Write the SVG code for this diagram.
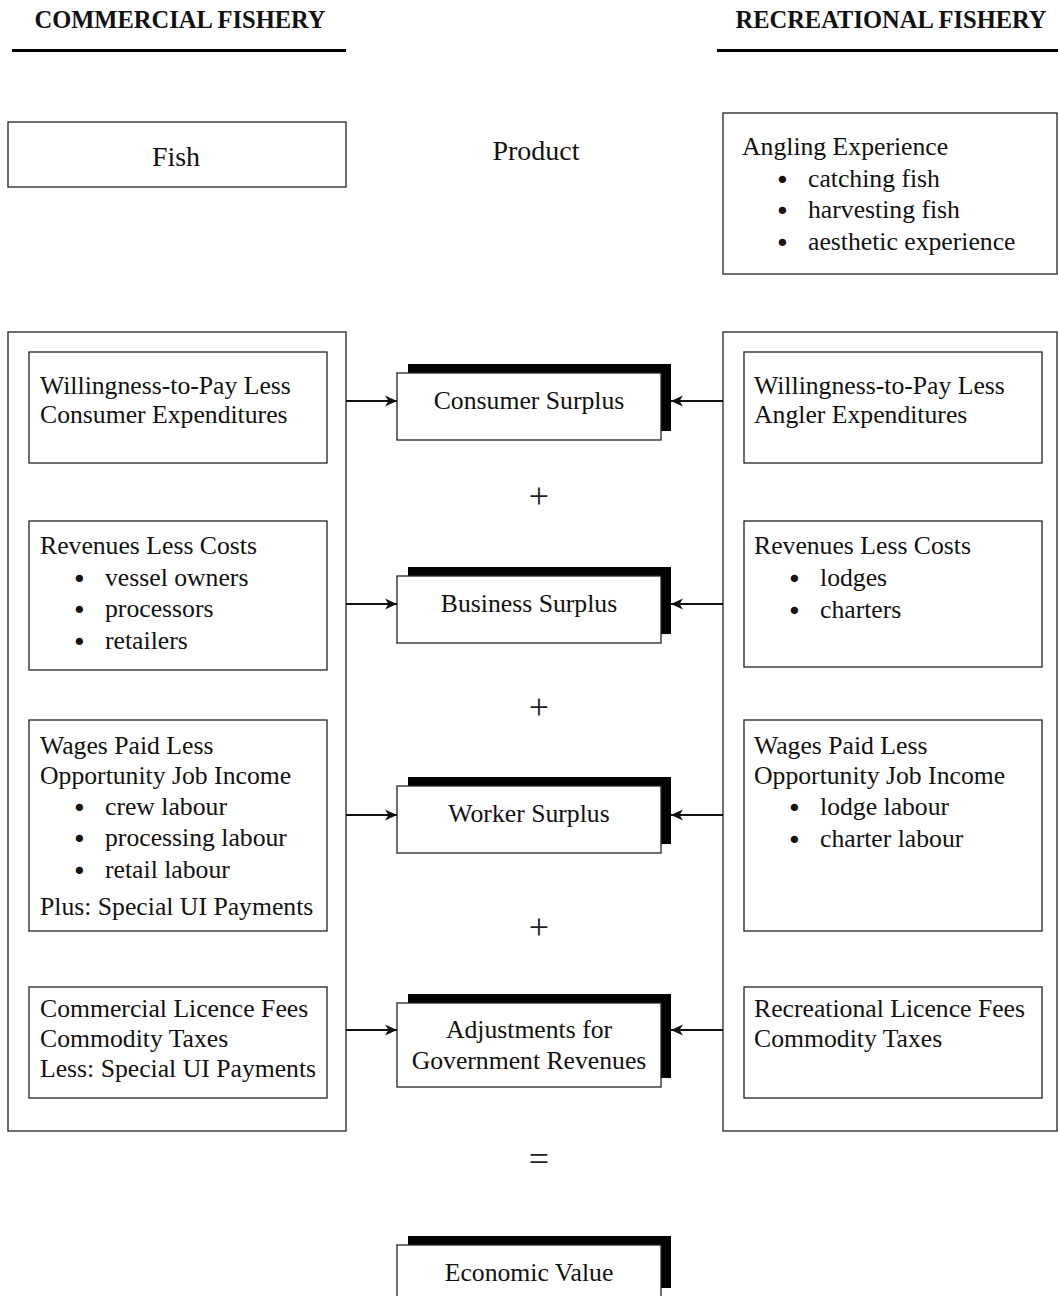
<svg xmlns="http://www.w3.org/2000/svg" width="1058" height="1296" viewBox="0 0 1058 1296">
<style>
.b{fill:#fff;stroke:#222;stroke-width:1.3}
.s{fill:#000}
.t{font-family:"Liberation Serif","Times New Roman",serif;font-size:25.7px;fill:#111}
.c{text-anchor:middle}
.u{font-family:"DejaVu Sans",sans-serif;font-size:25px}
.h{font-family:"Liberation Serif","Times New Roman",serif;font-size:24.5px;font-weight:bold;fill:#111}
.big{font-family:"Liberation Serif","Times New Roman",serif;font-size:28px;fill:#111;text-anchor:middle}
.op{font-family:"Liberation Serif","Times New Roman",serif;font-size:36px;fill:#222;text-anchor:middle}
.a{stroke:#111;stroke-width:1.8;fill:none;marker-end:url(#ah)}
</style>
<defs>
<marker id="ah" markerUnits="userSpaceOnUse" markerWidth="14" markerHeight="14" refX="12" refY="7" orient="auto">
<path d="M0,1.5 L12,7 L0,12.5 L3.5,7 z" fill="#111"/>
</marker>
</defs>
<rect width="1058" height="1296" fill="#fff"/>

<g id="header-commercial">
<text class="h" x="180" y="28" text-anchor="middle">COMMERCIAL FISHERY</text>
<rect x="12" y="49" width="334" height="3" fill="#000"/>
</g>
<g id="header-recreational">
<text class="h" x="891" y="28" text-anchor="middle">RECREATIONAL FISHERY</text>
<rect x="717" y="49" width="341" height="3" fill="#000"/>
</g>

<g id="fish">
<rect class="b" x="8" y="122" width="338" height="65"/>
<text class="big" x="176" y="166">Fish</text>
</g>
<g id="product">
<text class="big" x="536" y="160">Product</text>
</g>
<g id="angling">
<rect class="b" x="723" y="113" width="334" height="161"/>
<text class="t" x="742" y="155">Angling Experience</text>
<text class="t" y="187"><tspan class="u" x="775" dy="2">•</tspan><tspan x="808" dy="-2">catching fish</tspan></text>
<text class="t" y="218"><tspan class="u" x="775" dy="2">•</tspan><tspan x="808" dy="-2">harvesting fish</tspan></text>
<text class="t" y="250"><tspan class="u" x="775" dy="2">•</tspan><tspan x="808" dy="-2">aesthetic experience</tspan></text>
</g>

<g id="commercial-panel">
<rect class="b" x="8" y="332" width="338" height="799"/>
</g>
<g id="recreational-panel">
<rect class="b" x="723" y="332" width="334" height="799"/>
</g>

<g id="c-consumer">
<rect class="b" x="29" y="352" width="298" height="111"/>
<text class="t" x="40" y="394">Willingness-to-Pay Less</text>
<text class="t" x="40" y="423">Consumer Expenditures</text>
</g>
<g id="c-business">
<rect class="b" x="29" y="521" width="298" height="149"/>
<text class="t" x="40" y="554">Revenues Less Costs</text>
<text class="t" y="586"><tspan class="u" x="72" dy="2">•</tspan><tspan x="105" dy="-2">vessel owners</tspan></text>
<text class="t" y="617"><tspan class="u" x="72" dy="2">•</tspan><tspan x="105" dy="-2">processors</tspan></text>
<text class="t" y="649"><tspan class="u" x="72" dy="2">•</tspan><tspan x="105" dy="-2">retailers</tspan></text>
</g>
<g id="c-worker">
<rect class="b" x="29" y="720" width="298" height="211"/>
<text class="t" x="40" y="754">Wages Paid Less</text>
<text class="t" x="40" y="784">Opportunity Job Income</text>
<text class="t" y="815"><tspan class="u" x="72" dy="2">•</tspan><tspan x="105" dy="-2">crew labour</tspan></text>
<text class="t" y="846"><tspan class="u" x="72" dy="2">•</tspan><tspan x="105" dy="-2">processing labour</tspan></text>
<text class="t" y="878"><tspan class="u" x="72" dy="2">•</tspan><tspan x="105" dy="-2">retail labour</tspan></text>
<text class="t" x="40" y="915">Plus: Special UI Payments</text>
</g>
<g id="c-government">
<rect class="b" x="29" y="987" width="298" height="111"/>
<text class="t" x="40" y="1017">Commercial Licence Fees</text>
<text class="t" x="40" y="1047">Commodity Taxes</text>
<text class="t" x="40" y="1077">Less: Special UI Payments</text>
</g>

<g id="r-consumer">
<rect class="b" x="744" y="352" width="298" height="111"/>
<text class="t" x="754" y="394">Willingness-to-Pay Less</text>
<text class="t" x="754" y="423">Angler Expenditures</text>
</g>
<g id="r-business">
<rect class="b" x="744" y="521" width="298" height="146"/>
<text class="t" x="754" y="554">Revenues Less Costs</text>
<text class="t" y="586"><tspan class="u" x="787" dy="2">•</tspan><tspan x="820" dy="-2">lodges</tspan></text>
<text class="t" y="618"><tspan class="u" x="787" dy="2">•</tspan><tspan x="820" dy="-2">charters</tspan></text>
</g>
<g id="r-worker">
<rect class="b" x="744" y="720" width="298" height="211"/>
<text class="t" x="754" y="754">Wages Paid Less</text>
<text class="t" x="754" y="784">Opportunity Job Income</text>
<text class="t" y="815"><tspan class="u" x="787" dy="2">•</tspan><tspan x="820" dy="-2">lodge labour</tspan></text>
<text class="t" y="847"><tspan class="u" x="787" dy="2">•</tspan><tspan x="820" dy="-2">charter labour</tspan></text>
</g>
<g id="r-government">
<rect class="b" x="744" y="987" width="298" height="111"/>
<text class="t" x="754" y="1017">Recreational Licence Fees</text>
<text class="t" x="754" y="1047">Commodity Taxes</text>
</g>

<g id="consumer-surplus">
<rect class="s" x="408" y="364" width="263" height="67"/>
<rect class="b" x="397" y="373" width="264" height="67"/>
<text class="t c" x="529" y="409">Consumer Surplus</text>
</g>
<g id="business-surplus">
<rect class="s" x="408" y="567" width="263" height="67"/>
<rect class="b" x="397" y="576" width="264" height="67"/>
<text class="t c" x="529" y="612">Business Surplus</text>
</g>
<g id="worker-surplus">
<rect class="s" x="408" y="777" width="263" height="67"/>
<rect class="b" x="397" y="786" width="264" height="67"/>
<text class="t c" x="529" y="822">Worker Surplus</text>
</g>
<g id="gov-adjustments">
<rect class="s" x="408" y="994" width="263" height="84"/>
<rect class="b" x="397" y="1003" width="264" height="84"/>
<text class="t c" x="529" y="1038">Adjustments for</text>
<text class="t c" x="529" y="1069">Government Revenues</text>
</g>
<g id="economic-value">
<rect class="s" x="408" y="1236" width="263" height="52"/>
<rect class="b" x="397" y="1245" width="264" height="70"/>
<text class="t c" x="529" y="1281">Economic Value</text>
</g>

<g id="operators">
<text class="op" x="539" y="508">+</text>
<text class="op" x="539" y="719">+</text>
<text class="op" x="539" y="939">+</text>
<text class="op" x="539" y="1171">=</text>
</g>

<g id="connectors">
<line class="a" x1="346" y1="401" x2="397" y2="401"/>
<line class="a" x1="723" y1="401" x2="671" y2="401"/>
<line class="a" x1="346" y1="604" x2="397" y2="604"/>
<line class="a" x1="723" y1="604" x2="671" y2="604"/>
<line class="a" x1="346" y1="815" x2="397" y2="815"/>
<line class="a" x1="723" y1="815" x2="671" y2="815"/>
<line class="a" x1="346" y1="1030" x2="397" y2="1030"/>
<line class="a" x1="723" y1="1030" x2="671" y2="1030"/>
</g>
</svg>
